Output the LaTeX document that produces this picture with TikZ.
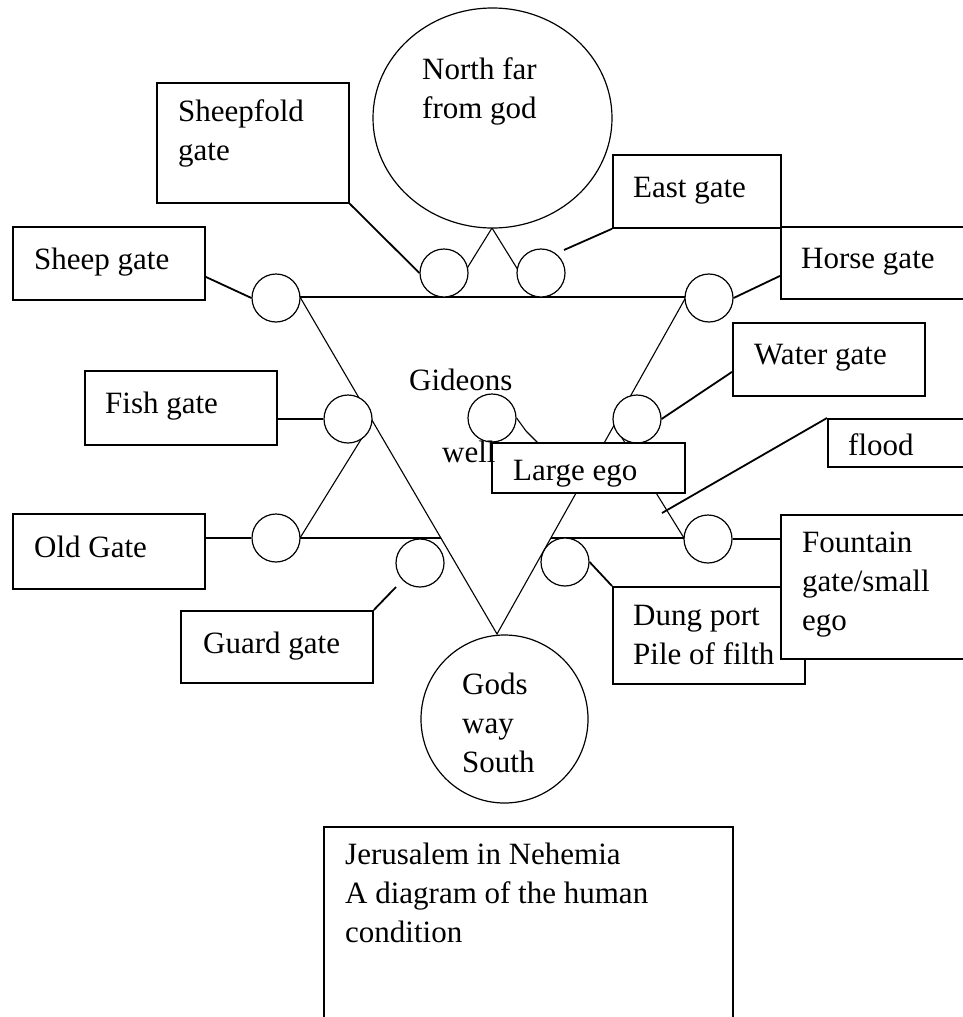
\documentclass[tikz,border=0pt]{standalone}
\usepackage{fontspec}
\setmainfont{Liberation Serif}
\usetikzlibrary{shapes.geometric,calc}
\newcommand\mlines[1]{\begin{tabular}[t]{@{}l@{}}#1\end{tabular}}
\begin{document}
\begin{tikzpicture}[x=1pt,y=-1pt,
  box/.style={draw, line width=1.8pt, fill=white, rectangle, inner sep=0pt, anchor=north west},
  gate/.style={draw, circle, line width=1.2pt, fill=white, minimum size=48pt, inner sep=0pt},
  big/.style={draw, ellipse, line width=1.2pt, fill=white, inner sep=0pt},
  txt/.style={font=\fontsize{31}{39}\selectfont, inner sep=0pt, anchor=base west},
  conn/.style={line width=1.8pt},
  slant/.style={line width=1.1pt},
  hline/.style={line width=1.8pt}]
\useasboundingbox (0,0) rectangle (963,1017);
\clip (0,0) rectangle (963,1017);
\fill[white] (0,0) rectangle (963,1017);

% triangle corners
\coordinate (apex) at (492,228);
\coordinate (upL) at (300,538);
\coordinate (upR) at (684,538);
\coordinate (dL) at (300,297);
\coordinate (dR) at (686,297);
\coordinate (dB) at (497,634);
\coordinate (floodend) at (662,513);

% upward triangle
\draw[slant] (upL) -- (apex) -- (upR);
\draw[hline] (upL) -- (upR);
% downward triangle (opaque)
\fill[white] (dL) -- (dR) -- (dB) -- cycle;
\draw[slant] (dL) -- (dB) -- (dR);
\draw[hline] (dL) -- (dR);

% gate circles
\node[gate] (sheepc) at (276,298) {};
\node[gate] (sfc) at (444,273) {};
\node[gate] (eastc) at (541,273) {};
\node[gate] (horsec) at (709,298) {};
\node[gate] (waterc) at (637,419) {};
\node[gate] (fishc) at (348,419) {};
\node[gate] (gidc) at (492,418) {};
\node[gate] (oldc) at (276,538) {};
\node[gate] (guardc) at (420,563) {};
\node[gate] (dungc) at (565,562) {};
\node[gate] (fountc) at (708,539) {};

% big circles
\node[big, minimum width=239pt, minimum height=220pt] (north) at (492.5,118) {};
\node[big, minimum width=167pt, minimum height=168pt] (gods) at (504.5,719) {};

% Gideon connector (under the Large ego box)
\draw[slant] (gidc.east) -- (526,431) coordinate (gidend) -- (540,445);

% boxes
\node[box, minimum width=192pt, minimum height=120pt] (sheepfold) at (156,82) {};
\node[box, minimum width=168pt, minimum height=73pt] (east) at (612,154) {};
\node[box, minimum width=210pt, minimum height=72pt] (horse) at (780,226) {};
\node[box, minimum width=192pt, minimum height=73pt] (water) at (732,322) {};
\node[box, minimum width=192pt, minimum height=73pt] (sheep) at (12,226) {};
\node[box, minimum width=192pt, minimum height=74pt] (fish) at (84,370) {};
\node[box, minimum width=192pt, minimum height=75pt] (old) at (12,513) {};
\node[box, minimum width=192pt, minimum height=72pt] (guard) at (180,610) {};
\node[box, minimum width=192pt, minimum height=97pt] (dung) at (612,586) {};
\node[box, minimum width=210pt, minimum height=144pt] (fountain) at (780,514) {};
\node[box, minimum width=163pt, minimum height=48pt] (flood) at (827,418) {};
\node[box, minimum width=193pt, minimum height=50pt] (ego) at (491,442) {};
\node[box, minimum width=409pt, minimum height=214pt] (jer) at (323,826) {};

% connectors
\draw[conn] ([yshift=-13.5pt]sheep.east) -- (sheepc.west);
\draw[conn] (sheepfold.south east) -- (sfc.west);
\draw[conn] (east.south west) -- ([shift={(23pt,23pt)}]eastc.center);
\draw[conn] ([yshift=-13pt]horse.west) -- (horsec.east);
\draw[conn] ([yshift=-12.5pt]water.west) -- (waterc.east);
\draw[conn] (fishc.west -| fish.east) -- (fishc.west);
\draw[conn] (oldc.west -| old.east) -- (oldc.west);
\draw[conn] (guard.north east) -- ([shift={(-24pt,-24pt)}]guardc.center);
\draw[conn] (dungc.east) -- (dung.north west);
\draw[conn] (fountc.east) -- (fountc.east -| fountain.west);
\draw[conn] (flood.north west) -- (floodend);

% texts
\node[txt] (tsf) at (178,121) {\mlines{Sheepfold\\gate}};
\node[txt] (tn) at (422,79) {\mlines{North far\\from god}};
\node[txt] (te) at (633,197) {East gate};
\node[txt] (th) at (801,268) {Horse gate};
\node[txt] (tw) at (754,364) {Water gate};
\node[txt] (ts) at (34,269) {Sheep gate};
\node[txt] (tf) at (105,413) {Fish gate};
\node[txt] (tg) at (409,390) {Gideons};
\node[txt] (twell) at (442,462) {well};
\node[txt] (tl) at (513,480) {Large ego};
\node[txt] (tfl) at (848,455) {flood};
\node[txt] (to) at (34,557) {Old Gate};
\node[txt] (tgu) at (203,653) {Guard gate};
\node[txt] (td) at (633,625) {\mlines{Dung port\\Pile of filth}};
\node[txt] (tfo) at (802,552) {\mlines{Fountain\\gate/small\\ego}};
\node[txt] (tgo) at (462,694) {\mlines{Gods\\way\\South}};
\node[txt] (tj) at (345,864) {\mlines{Jerusalem in Nehemia\\A diagram of the human\\condition}};
\end{tikzpicture}
\end{document}
